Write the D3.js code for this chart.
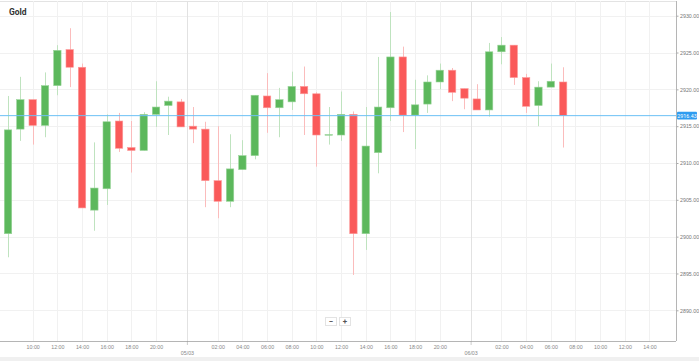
<!DOCTYPE html>
<html>
<head>
<meta charset="utf-8">
<script src="https://cdn.jsdelivr.net/npm/d3@7"></script>
<style>
  html, body { margin: 0; padding: 0; background: #fff; }
  svg { display: block; font-family: Roboto, "Noto Sans", sans-serif; }
</style>
</head>
<body>
<div id="chart"></div>
<script>
(function () {
  // hourly candles, 04/03 08:00 .. 06/03 07:00 (23:00 is a closed hour)
  let opens = [2900.4, 2914.6, 2918.6, 2915.1, 2920.5, 2925.4, 2923.0, 2903.6, 2906.5, 2915.7,
    2912.1, 2911.7, 2916.6, 2917.8, 2918.3, 2915.0, 2914.6, 2907.6, 2904.8, 2909.1,
    2911.0, 2919.1, 2917.5, 2918.3, 2920.4, 2919.4, 2913.8, 2913.8, 2916.6, 2900.4,
    2911.4, 2917.5, 2924.4, 2916.5, 2918.0, 2921.0, 2922.6, 2920.1, 2918.7, 2917.2,
    2925.1, 2926.0, 2921.6, 2917.8, 2920.3, 2921.0];
  let highs = [2919.1, 2921.7, 2918.6, 2922.3, 2926.0, 2928.3, 2923.5, 2912.8, 2916.6, 2916.8,
    2915.7, 2916.9, 2921.1, 2919.0, 2918.7, 2917.6, 2915.6, 2915.0, 2913.9, 2913.1,
    2919.2, 2922.2, 2920.2, 2922.4, 2923.1, 2919.6, 2917.6, 2919.7, 2917.0, 2917.6,
    2924.4, 2930.5, 2925.8, 2921.3, 2921.9, 2923.5, 2922.9, 2920.1, 2920.7, 2926.3,
    2927.1, 2926.0, 2922.1, 2921.1, 2923.5, 2923.0];
  let lows = [2897.2, 2913.0, 2912.5, 2913.5, 2919.2, 2920.3, 2903.9, 2900.8, 2904.3, 2911.5,
    2908.7, 2911.7, 2914.9, 2913.8, 2914.9, 2912.7, 2904.0, 2902.5, 2904.0, 2909.1,
    2910.5, 2914.1, 2913.5, 2917.2, 2913.8, 2909.5, 2912.5, 2913.0, 2894.8, 2898.2,
    2908.6, 2915.7, 2914.2, 2911.9, 2916.8, 2920.0, 2918.4, 2917.3, 2917.2, 2916.3,
    2923.4, 2920.6, 2916.8, 2915.0, 2920.3, 2912.1];
  let closes = [2914.5, 2918.6, 2915.1, 2920.5, 2925.3, 2923.0, 2903.9, 2906.6, 2915.6, 2912.0,
    2911.7, 2916.6, 2917.6, 2918.4, 2914.9, 2914.6, 2907.6, 2904.8, 2909.2, 2911.0,
    2919.2, 2917.5, 2918.6, 2920.4, 2919.4, 2913.8, 2913.85, 2916.6, 2900.4, 2912.3,
    2917.6, 2924.4, 2916.5, 2917.9, 2921.0, 2922.6, 2919.6, 2918.8, 2917.2, 2925.1,
    2926.0, 2921.6, 2917.7, 2920.3, 2921.1, 2916.43];

  let days = ['04/03', '05/03', '06/03'];
  let firstHour = 8;
  let lastHour = 22;          // market closed 23:00
  let yTicks = [2890, 2895, 2900, 2905, 2910, 2915, 2920, 2925, 2930];
  let lastPrice = 2916.43;
  let title = 'Gold';

  // time slots: one per trading hour, on a continuous index
  let slots = [];
  days.forEach((day, di) => {
    let h0 = di === 0 ? firstHour : 0;
    for (let h = h0; h <= lastHour; h++) {
      slots.push({ day: day, hour: h, i: slots.length });
    }
  });

  let candles = opens.map((o, i) => ({
    i: i, open: o, high: highs[i], low: lows[i], close: closes[i]
  }));

  let W = 699, H = 361;
  let plot = { left: 0, right: 676, top: 1, bottom: 341 };

  let xscale = d3.scaleLinear().domain([-0.65, 54.15]).range([plot.left, plot.right]);
  let yscale = d3.scaleLinear().domain([2930, 2890]).range([15.7, 310.3]);

  let inView = (i) => xscale(i) > 20 && xscale(i) < plot.right - 15;
  let hourTicks = slots.filter((s) => s.hour % 2 === 0 && s.hour !== 0 && s.hour !== lastHour && inView(s.i))
    .map((s) => s.i);
  let dayTicks = slots.filter((s) => s.hour === 0).map((s) => s.i - 0.5);
  let slotOf = new Map(slots.map((s) => [s.i, s]));
  let pad = (n) => (n < 10 ? '0' : '') + n;

  let svg = d3.select('#chart').append('svg').attr('width', W).attr('height', H);

  svg.append('rect').attr('x', 0).attr('y', 357).attr('width', W).attr('height', 4).attr('fill', '#f0f0f0');
  svg.append('line').attr('x1', 0).attr('x2', plot.right).attr('y1', 1.5).attr('y2', 1.5)
    .attr('stroke', '#e3e3e3');

  // grid
  let grid = svg.append('g');
  grid.selectAll('.hg').data(yTicks).enter().append('line')
    .attr('x1', plot.left).attr('x2', plot.right)
    .attr('y1', (d) => Math.round(yscale(d)) + 0.5).attr('y2', (d) => Math.round(yscale(d)) + 0.5)
    .attr('stroke', '#f1f1f1');
  grid.selectAll('.vg').data(hourTicks).enter().append('line')
    .attr('x1', (d) => Math.round(xscale(d)) + 0.5).attr('x2', (d) => Math.round(xscale(d)) + 0.5)
    .attr('y1', plot.top).attr('y2', plot.bottom)
    .attr('stroke', '#f1f1f1');
  grid.selectAll('.dg').data(dayTicks).enter().append('line')
    .attr('x1', (d) => Math.round(xscale(d)) + 0.5).attr('x2', (d) => Math.round(xscale(d)) + 0.5)
    .attr('y1', plot.top).attr('y2', plot.bottom)
    .attr('stroke', '#e2e2e2');

  // candles
  let bw = 7.4;
  let up = (d) => d.close >= d.open;
  let bars = svg.append('g');
  bars.selectAll('.wick').data(candles).enter().append('line')
    .attr('x1', (d) => Math.round(xscale(d.i)) + 0.5).attr('x2', (d) => Math.round(xscale(d.i)) + 0.5)
    .attr('y1', (d) => yscale(d.high)).attr('y2', (d) => yscale(d.low))
    .attr('stroke', (d) => (up(d) ? '#bfe3bf' : '#fbbcbc'))
    .attr('stroke-width', 1);
  bars.selectAll('.body').data(candles).enter().append('rect')
    .attr('x', (d) => xscale(d.i) - bw / 2)
    .attr('y', (d) => yscale(Math.max(d.open, d.close)))
    .attr('width', bw)
    .attr('height', (d) => Math.max(0.6, Math.abs(yscale(d.open) - yscale(d.close))))
    .attr('fill', (d) => (up(d) ? '#5cb85c' : '#fa5a5a'))
    .attr('stroke', (d) => (up(d) ? '#9ad49a' : '#fc9a9a'))
    .attr('stroke-width', 0.6);

  // last price line
  svg.append('line')
    .attr('x1', plot.left).attr('x2', plot.right)
    .attr('y1', yscale(lastPrice)).attr('y2', yscale(lastPrice))
    .attr('stroke', '#6cc0f5').attr('stroke-width', 1);

  // y axis (right)
  let yAxis = svg.append('g')
    .attr('transform', `translate(${plot.right + 0.5},0)`)
    .call(d3.axisRight(yscale).tickValues(yTicks).tickSize(2).tickPadding(1.5).tickFormat(d3.format('.2f')));
  yAxis.select('.domain').attr('d', `M0,${plot.top}V${plot.bottom}`).attr('stroke', '#b5b5b5');
  yAxis.selectAll('.tick line').attr('stroke', '#aaa');
  yAxis.selectAll('.tick text').attr('fill', '#777').attr('font-size', 5.3);

  let py = yscale(lastPrice);
  svg.append('rect').attr('x', plot.right + 1).attr('y', py - 3.8).attr('width', 20).attr('height', 7.6)
    .attr('rx', 1).attr('fill', '#2f9cf0');
  svg.append('text').attr('x', plot.right + 11).attr('y', py + 1.9).attr('text-anchor', 'middle')
    .attr('fill', '#fff').attr('font-size', 5.3).text(lastPrice.toFixed(2));

  // x axis
  let xAxis = svg.append('g')
    .attr('transform', `translate(0,${plot.bottom + 0.5})`)
    .call(d3.axisBottom(xscale).tickValues(hourTicks).tickSize(0).tickPadding(4)
      .tickFormat((d) => pad(slotOf.get(d).hour) + ':00'));
  xAxis.select('.domain').attr('d', `M${plot.left},0H${plot.right}`).attr('stroke', '#b5b5b5');
  xAxis.selectAll('.tick text').attr('fill', '#888').attr('font-size', 5.3);

  let dayAxis = svg.append('g')
    .attr('transform', `translate(0,${plot.bottom + 0.5})`)
    .call(d3.axisBottom(xscale).tickValues(dayTicks).tickSize(4).tickPadding(6)
      .tickFormat((d) => slotOf.get(d + 0.5).day));
  dayAxis.select('.domain').remove();
  dayAxis.selectAll('.tick line').attr('stroke', '#999').attr('stroke-dasharray', '1,1');
  dayAxis.selectAll('.tick text').attr('fill', '#888').attr('font-size', 5.3);

  // title
  svg.append('text').attr('x', 9).attr('y', 15).attr('font-size', 8.5).attr('font-weight', 'bold')
    .attr('fill', '#333').text(title);

  // zoom buttons
  let zb = svg.append('g').attr('transform', 'translate(325,317)');
  [['−', 0], ['+', 14]].forEach(([t, dx]) => {
    zb.append('rect').attr('x', dx + 0.5).attr('y', 0.5).attr('width', 11).attr('height', 8)
      .attr('fill', '#fff').attr('stroke', '#e3e3e3');
    zb.append('text').attr('x', dx + 6).attr('y', 6.8).attr('text-anchor', 'middle')
      .attr('font-size', 8).attr('font-weight', 'bold').attr('fill', '#555').text(t);
  });
})();
</script>
</body>
</html>
